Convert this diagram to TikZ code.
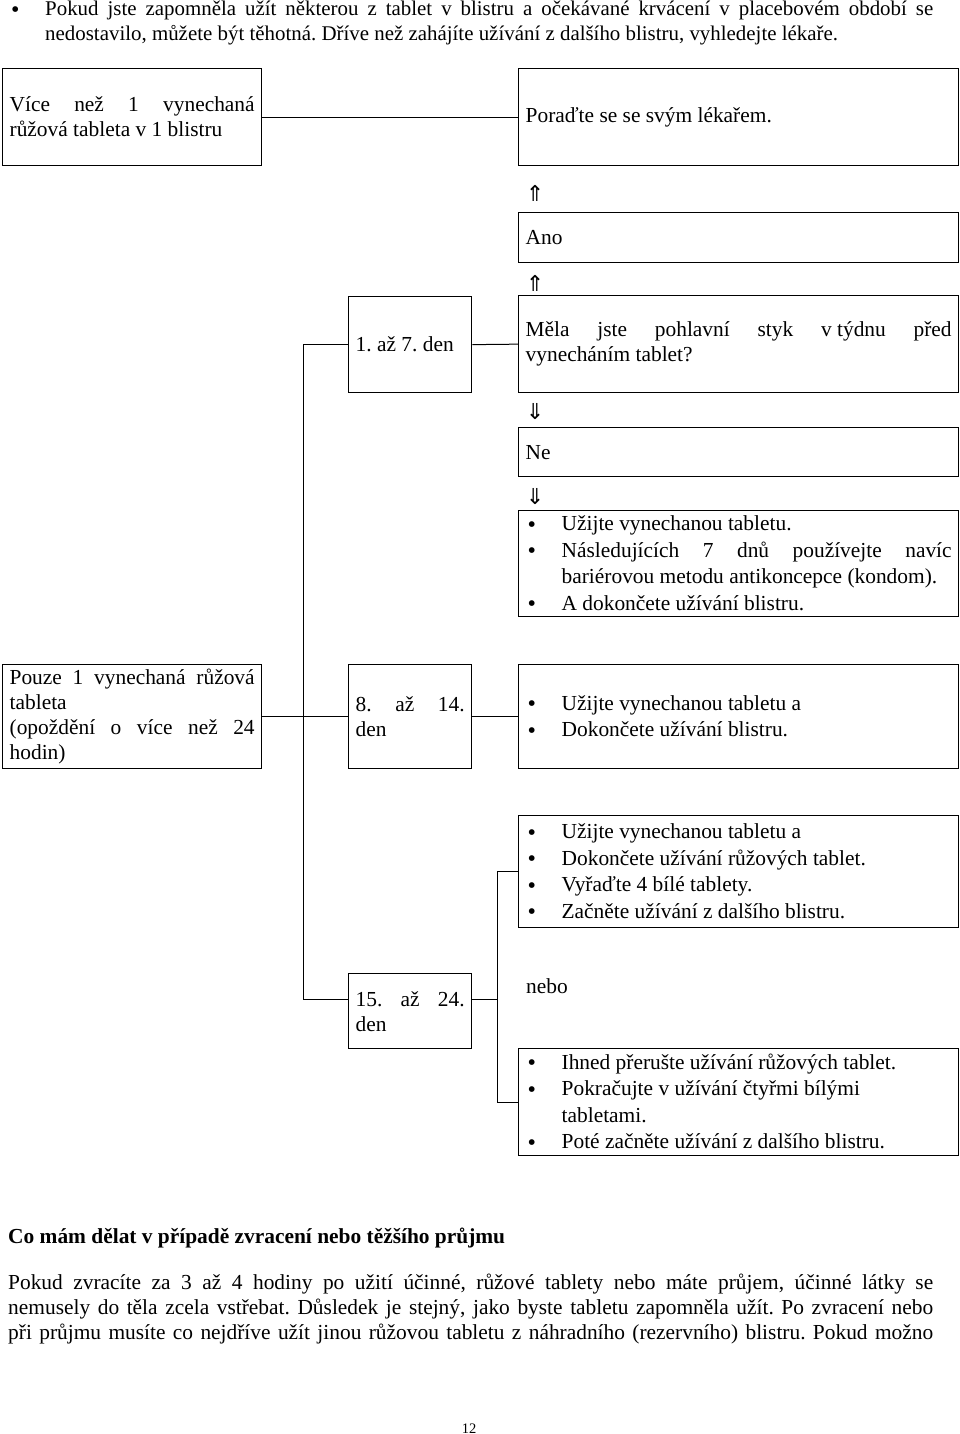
\documentclass[tikz,border=0pt]{standalone}
\usepackage{fontspec}
\setmainfont{Liberation Serif}
\newfontfamily\arrowfont{DejaVu Sans}
\usetikzlibrary{positioning}
\frenchspacing

\newcommand\bigdot{\raisebox{-1.5pt}{\fontsize{24}{25}\selectfont\textbullet}}
\newcommand\bul[1]{\noindent\hangindent=36pt\hangafter=1%
  \makebox[36pt][l]{\hspace{2pt}\bigdot}#1\par}

\begin{document}
\begin{tikzpicture}[x=1pt, y=-1pt,
    box/.style 2 args={draw, line width=1.3pt, inner xsep=7pt, inner ysep=0pt,
      anchor=north west, align=justify, text width=#1, minimum height=#2,
      font=\fontsize{21.4}{25}\selectfont},
    listbox/.style={box={426pt}{#1}, font=\fontsize{21.4}{26.5}\selectfont},
    plain/.style={inner sep=0pt, anchor=base west, font=\fontsize{21.4}{25}\selectfont},
    sign/.style={inner sep=0pt, font=\arrowfont\fontsize{22}{22}\selectfont},
    link/.style={line width=1pt}]
\useasboundingbox (0,0) rectangle (960,1434);

% top note
\node[plain] (dot) at (11,16) {\bigdot};
\node[plain, text width=888pt, align=justify, font=\fontsize{20.9}{25}\selectfont] (intro) at (45,16)
  {Pokud jste zapomněla užít některou z tablet v blistru a očekávané krvácení v placebovém období se\linebreak
   nedostavilo, můžete být těhotná. Dříve než zahájíte užívání z dalšího blistru, vyhledejte lékaře.};

% more than one missed tablet
\node[box={245pt}{97pt}] (more) at (2,68)
  {Více než 1 vynechaná\linebreak růžová tableta v~1 blistru};
\node[box={426pt}{97pt}] (doctor) at (518,68) {Poraďte se se svým lékařem.};
\draw[link] (more.east) -- (doctor.west);

% day 1 to 7
\node[sign] (up1) at (535,193) {⇑};
\node[box={426pt}{50pt}] (yes) at (518,212) {Ano};
\node[sign] (up2) at (535,283) {⇑};
\node[box={426pt}{97pt}] (question) at (518,295)
  {Měla jste pohlavní styk v\nobreak\hspace{.25em}týdnu před\linebreak vynecháním tablet?};
\node[box={109pt}{96pt}] (week1) at (348,296) {1. až 7. den};
\draw[link] (week1.east) -- (question.west);
\node[sign] (down1) at (535,412) {⇓};
\node[box={426pt}{49pt}] (no) at (518,427) {Ne};
\node[sign] (down2) at (535,497) {⇓};
\node[listbox={106pt}] (todo1) at (518,510)
  {\bul{Užijte vynechanou tabletu.}
   \bul{Následujících 7 dnů používejte navíc\linebreak bariérovou metodu antikoncepce (kondom).}
   \bul{A dokončete užívání blistru.}};

% only one missed tablet
\node[box={245pt}{104pt}] (one) at (2,664)
  {Pouze 1 vynechaná růžová\linebreak tableta\hfil\break (opoždění o více než 24\linebreak hodin)};
\node[box={109pt}{104pt}] (week2) at (348,664) {8. až 14.\linebreak den};
\node[listbox={104pt}] (todo2) at (518,664)
  {\bul{Užijte vynechanou tabletu a}
   \bul{Dokončete užívání blistru.}};
\draw[link] (one.east) -- (week2.west);
\draw[link] (week2.east) -- (todo2.west);

% day 15 to 24
\node[listbox={112pt}] (todo3) at (518,815)
  {\bul{Užijte vynechanou tabletu a}
   \bul{Dokončete užívání růžových tablet.}
   \bul{Vyřaďte 4 bílé tablety.}
   \bul{Začněte užívání z dalšího blistru.}};
\node[box={109pt}{75pt}] (week3) at (348,973) {15. až 24.\linebreak den};
\node[plain] (or) at (526,993) {nebo};
\node[listbox={107pt}] (todo4) at (518,1048)
  {\bul{Ihned přerušte užívání růžových tablet.}
   \bul{Pokračujte v~užívání čtyřmi bílými\hfil\break tabletami.}
   \bul{Poté začněte užívání z~dalšího blistru.}};
\draw[link] (week1.west) -- ++(-45,0) |- ([yshift=11.5pt]week3.west);
\draw[link] ([yshift=11.5pt]week3.east) -- ++(26,0);
\draw[link] (todo3.west) -- ++(-21,0) |- (todo4.west);

% vomiting
\node[plain, font=\fontsize{21.4}{25}\selectfont\bfseries] (head) at (8,1243)
  {Co mám dělat v případě zvracení nebo těžšího průjmu};
\node[plain, text width=925pt, align=justify] (para) at (8,1289)
  {\parfillskip=0pt Pokud zvracíte za 3 až 4~hodiny po užití účinné, růžové tablety nebo máte průjem, účinné látky se\linebreak
   nemusely do těla zcela vstřebat. Důsledek je stejný, jako byste tabletu zapomněla užít. Po zvracení nebo\linebreak
   při průjmu musíte co nejdříve užít jinou růžovou tabletu z náhradního (rezervního) blistru. Pokud možno\par};
\node[plain, anchor=base, font=\fontsize{14.5}{16}\selectfont] (page) at (469,1433) {12};
\end{tikzpicture}
\end{document}
